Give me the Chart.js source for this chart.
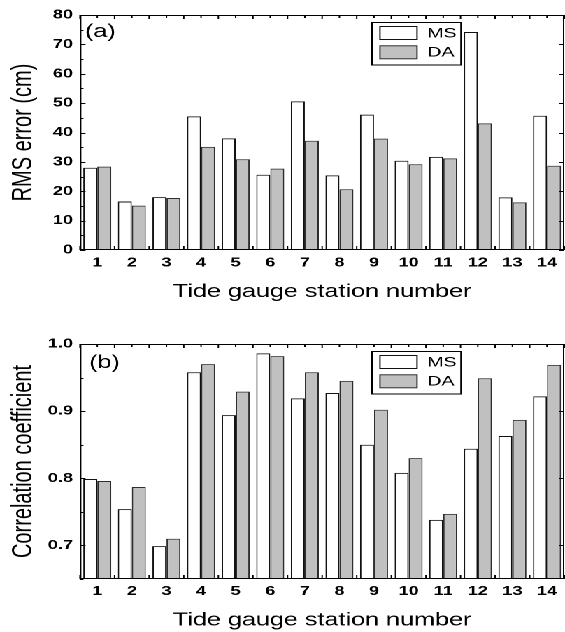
<!DOCTYPE html>
<html>
<head>
<meta charset="utf-8">
<script src="https://cdn.jsdelivr.net/npm/chart.js@4.4.1/dist/chart.umd.min.js"></script>
<style>
  html, body { margin: 0; padding: 0; background: #fff; overflow: hidden; }
  #wrap { position: absolute; left: 0; top: 0; width: 404px; height: 632px; transform: scaleX(1.39851); transform-origin: 0 0; }
  .box { position: relative; width: 404px; height: 316px; }
</style>
</head>
<body>
<div id="wrap">
  <div class="box"><canvas id="c1" width="404" height="316"></canvas></div>
  <div class="box"><canvas id="c2" width="404" height="316"></canvas></div>
</div>
<script>
// ---- data ----
const categories = ['1','2','3','4','5','6','7','8','9','10','11','12','13','14'];
const seriesNames = ['MS', 'DA'];
const rmsMS = [28.0, 16.5, 18.0, 45.5, 38.0, 25.6, 50.6, 25.4, 46.1, 30.4, 31.7, 74.2, 17.9, 45.7];
const rmsDA = [28.4, 15.1, 17.7, 35.1, 30.9, 27.7, 37.2, 20.7, 37.9, 29.2, 31.2, 43.1, 16.2, 28.7];
const corrMS = [0.799, 0.754, 0.699, 0.958, 0.894, 0.986, 0.919, 0.927, 0.850, 0.808, 0.738, 0.844, 0.863, 0.922];
const corrDA = [0.796, 0.787, 0.710, 0.970, 0.929, 0.982, 0.958, 0.945, 0.902, 0.830, 0.747, 0.949, 0.887, 0.969];
const rmsAxis = { min: 0, max: 80, step: 5, labelEvery: 10 };
const corrAxis = { min: 0.65, max: 1.0, step: 0.05, labelEvery: 0.1 };
const xTitle = 'Tide gauge station number';
const rmsTitle = 'RMS error (cm)';
const corrTitle = 'Correlation coefficient';

const FONT = '"Liberation Sans", Arial, Helvetica, sans-serif';
const MS_FILL = '#ffffff', MS_EDGE = '#111111';
const DA_FILL = '#c0c0c0', DA_EDGE = '#2e2e2e';

const framePlugin = {
  id: 'frame',
  afterDatasetsDraw(chart, args, opts) {
    const { ctx, chartArea: { left, right, top, bottom }, scales: { x, y } } = chart;
    ctx.save();
    ctx.strokeStyle = '#000';
    ctx.lineWidth = 1;
    ctx.strokeRect(left + 0.5, top + 0.5, right - left - 1, bottom - top - 1);
    ctx.beginPath();
    y.ticks.forEach(t => {
      const py = Math.round(y.getPixelForValue(t.value)) + 0.5;
      const major = t.label !== '';
      const len = major ? 4 : 2.5;
      ctx.moveTo(left, py); ctx.lineTo(left + len, py);
      if (major) { ctx.moveTo(right, py); ctx.lineTo(right - 3.5, py); }
    });
    const n = chart.data.labels.length;
    for (let i = 0; i <= n; i++) {
      const pb = x.getPixelForValue(i - 0.5);
      ctx.moveTo(pb, top); ctx.lineTo(pb, top + 4);
      ctx.moveTo(pb, bottom); ctx.lineTo(pb, bottom - 4);
      if (i < n) {
        const pc = x.getPixelForValue(i);
        ctx.moveTo(pc, top); ctx.lineTo(pc, top + 3);
      }
    }
    ctx.stroke();

    // panel tag
    ctx.fillStyle = '#000';
    ctx.font = '18px ' + FONT;
    ctx.textBaseline = 'top';
    ctx.textAlign = 'left';
    ctx.fillText(opts.tag, left + opts.tagDx, top + opts.tagDy);

    // legend box
    const bx = left + 208.8, by = top + 7.5, bw = 63.6, bh = 42.5;
    ctx.lineWidth = 1;
    ctx.strokeStyle = '#000';
    ctx.fillStyle = '#fff';
    ctx.fillRect(bx, by, bw, bh);
    ctx.strokeRect(bx, by, bw, bh);
    chart.data.datasets.forEach((ds, i) => {
      const sy = by + 4 + i * 19.3;
      ctx.fillStyle = ds.backgroundColor;
      ctx.fillRect(bx + 5.7, sy, 26.5, 13);
      ctx.strokeStyle = ds.borderColor;
      ctx.lineWidth = 1;
      ctx.strokeRect(bx + 5.7, sy, 26.5, 13);
      ctx.fillStyle = '#000';
      ctx.font = '14px ' + FONT;
      ctx.textBaseline = 'middle';
      ctx.fillText(ds.label, bx + 39.5, sy + 7);
    });
    ctx.restore();
  }
};

function makeChart(id, msData, daData, axis, yTitle, tag, cfg) {
  const isLabel = v => {
    const k = Math.round(v / axis.labelEvery * 1000) / 1000;
    return Math.abs(k - Math.round(k)) < 1e-6;
  };
  return new Chart(document.getElementById(id), {
    type: 'bar',
    data: {
      labels: categories,
      datasets: [
        { label: seriesNames[0], data: msData, backgroundColor: MS_FILL, borderColor: MS_EDGE, borderWidth: 1, base: axis.min },
        { label: seriesNames[1], data: daData, backgroundColor: DA_FILL, borderColor: DA_EDGE, borderWidth: 1, base: axis.min }
      ]
    },
    options: {
      responsive: false,
      animation: false,
      devicePixelRatio: 2,
      layout: { padding: { top: cfg.padTop, right: 0.5, left: 0, bottom: 0 } },
      datasets: { bar: { categoryPercentage: 0.81, barPercentage: 1.0 } },
      plugins: {
        legend: { display: false },
        tooltip: { enabled: false },
        frame: { tag: tag, tagDx: cfg.tagDx, tagDy: cfg.tagDy }
      },
      scales: {
        x: {
          grid: { display: false, drawTicks: false },
          border: { display: false },
          ticks: { color: '#000', font: { family: FONT, size: 13, weight: 'bold' }, padding: cfg.xTickPad, maxRotation: 0, autoSkip: false },
          title: { display: true, text: xTitle, color: '#000', font: { family: FONT, size: 18 }, padding: { top: 0, bottom: cfg.xTitlePad } },
          afterFit: s => { s.height = cfg.xHeight; }
        },
        y: {
          min: axis.min, max: axis.max,
          grid: { display: false, drawTicks: false },
          border: { display: false },
          ticks: {
            stepSize: axis.step,
            color: '#000',
            font: { family: FONT, size: 13, weight: 'bold' },
            padding: 5,
            autoSkip: false,
            callback: v => isLabel(v) ? (axis.max <= 1 ? v.toFixed(1) : String(Math.round(v))) : ''
          },
          title: { display: true, text: yTitle, color: '#000', font: { family: FONT, size: 20 }, padding: { top: 5, bottom: 0 } },
          afterFit: s => { s.width = 57.2; }
        }
      }
    },
    plugins: [framePlugin]
  });
}

makeChart('c1', rmsMS, rmsDA, rmsAxis, rmsTitle, '(a)',
  { padTop: 15, xHeight: 66, xTickPad: 5, xTitlePad: 13, tagDx: 3.5, tagDy: 8 });
makeChart('c2', corrMS, corrDA, corrAxis, corrTitle, '(b)',
  { padTop: 28, xHeight: 53, xTickPad: 4.5, xTitlePad: 0.5, tagDx: 6.5, tagDy: 10 });
</script>
</body>
</html>
